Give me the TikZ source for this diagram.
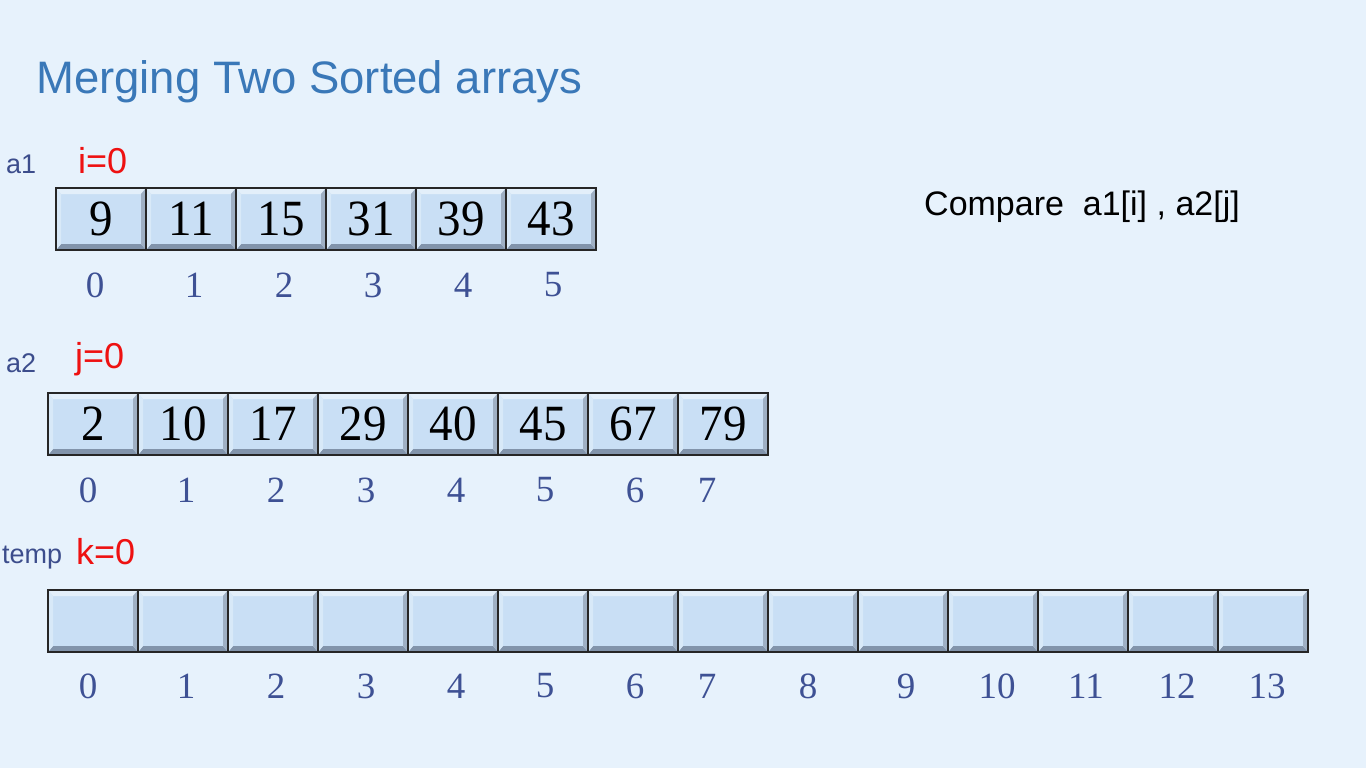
\documentclass[tikz,border=0pt]{standalone}
\usepackage{fontspec}
\setmainfont{Liberation Serif}
\setsansfont{Liberation Sans}
\usepackage{xcolor}
\usepackage{graphicx}
\usepackage{tikz}
\usetikzlibrary{positioning, calc}

\definecolor{slidebg}{HTML}{E7F2FC}
\definecolor{titleblue}{HTML}{3A78B8}
\definecolor{labelblue}{HTML}{3C4D8C}
\definecolor{idxblue}{HTML}{3E5194}
\definecolor{ptrred}{HTML}{EE1111}
\definecolor{cellfill}{HTML}{C9DFF5}
\definecolor{cellhi}{HTML}{E3EFFA}
\definecolor{cellsh}{HTML}{8294AB}
\definecolor{cellside}{HTML}{9FB0C4}

\newcommand{\tallnum}[1]{\scalebox{1}[1.08]{#1}}

\tikzset{
  cell/.style={draw=black!85, line width=1.3pt, fill=cellfill,
    minimum width=90pt, minimum height=62pt, inner sep=0pt,
    font=\fontsize{47}{47}\selectfont,
    path picture={
      \fill[cellhi] (path picture bounding box.north west) -- (path picture bounding box.north east)
        -- ([xshift=-5pt,yshift=-6pt]path picture bounding box.north east)
        -- ([xshift=5pt,yshift=-6pt]path picture bounding box.north west) -- cycle;
      \fill[cellsh] (path picture bounding box.south west) -- (path picture bounding box.south east)
        -- ([xshift=-5pt,yshift=6pt]path picture bounding box.south east)
        -- ([xshift=5pt,yshift=6pt]path picture bounding box.south west) -- cycle;
      \fill[cellside] (path picture bounding box.north east) -- (path picture bounding box.south east)
        -- ([xshift=-5pt,yshift=6pt]path picture bounding box.south east)
        -- ([xshift=-5pt,yshift=-6pt]path picture bounding box.north east) -- cycle;
      \fill[cellhi!60!cellfill] (path picture bounding box.north west) -- (path picture bounding box.south west)
        -- ([xshift=5pt,yshift=6pt]path picture bounding box.south west)
        -- ([xshift=5pt,yshift=-6pt]path picture bounding box.north west) -- cycle;
    }},
  idx/.style={text=idxblue, inner sep=0pt, font=\fontsize{37}{37}\selectfont},
  arrname/.style={text=labelblue, anchor=base west, inner sep=0pt, font=\sffamily\fontsize{27}{27}\selectfont},
  ptr/.style={text=ptrred, anchor=base west, inner sep=0pt, font=\sffamily\fontsize{36}{36}\selectfont}
}

\begin{document}
\begin{tikzpicture}[x=1pt,y=-1pt]

% Slide background
\fill[slidebg] (0,0) rectangle (1366,768);
\useasboundingbox (0,0) rectangle (1366,768);

% Title
\node[anchor=base west, inner sep=0pt, text=titleblue, font=\sffamily\fontsize{45.5}{45.5}\selectfont]
  (title) at (36,93) {Merging Two Sorted arrays};

% Array a1
\node[arrname] (a1name) at (6,173) {a1};
\node[ptr] (iptr) at (78,173) {i=0};
\foreach \v [count=\n from 0] in {9,11,15,31,39,43}
  \node[cell] (a1-\n) at ({101+90*\n},219) {\tallnum{\v}};
\foreach \x [count=\n from 0] in {95,194,284,373,463,553}
  \node[idx] (a1i-\n) at (\x,285) {\n};

% Comparison note
\node[anchor=base west, inner sep=0pt, font=\sffamily\fontsize{34}{34}\selectfont]
  (cmp) at (924,215) {Compare\ \ a1[i] , a2[j]};

% Array a2
\node[arrname] (a2name) at (6,372) {a2};
\node[ptr] (jptr) at (75,368) {j=0};
\foreach \v [count=\n from 0] in {2,10,17,29,40,45,67,79}
  \node[cell] (a2-\n) at ({93+90*\n},424) {\tallnum{\v}};
\foreach \x [count=\n from 0] in {88,186,276,366,456,545,635,707}
  \node[idx] (a2i-\n) at (\x,490) {\n};

% Array temp
\node[arrname] (tname) at (2,563) {temp};
\node[ptr] (kptr) at (76,564) {k=0};
\foreach \n in {0,...,13}
  \node[cell] (t-\n) at ({93+90*\n},621) {};
\foreach \x [count=\n from 0] in {88,186,276,366,456,545,635,707,808,906,997,1086,1177,1267}
  \node[idx] (ti-\n) at (\x,686) {\n};

\end{tikzpicture}
\end{document}
